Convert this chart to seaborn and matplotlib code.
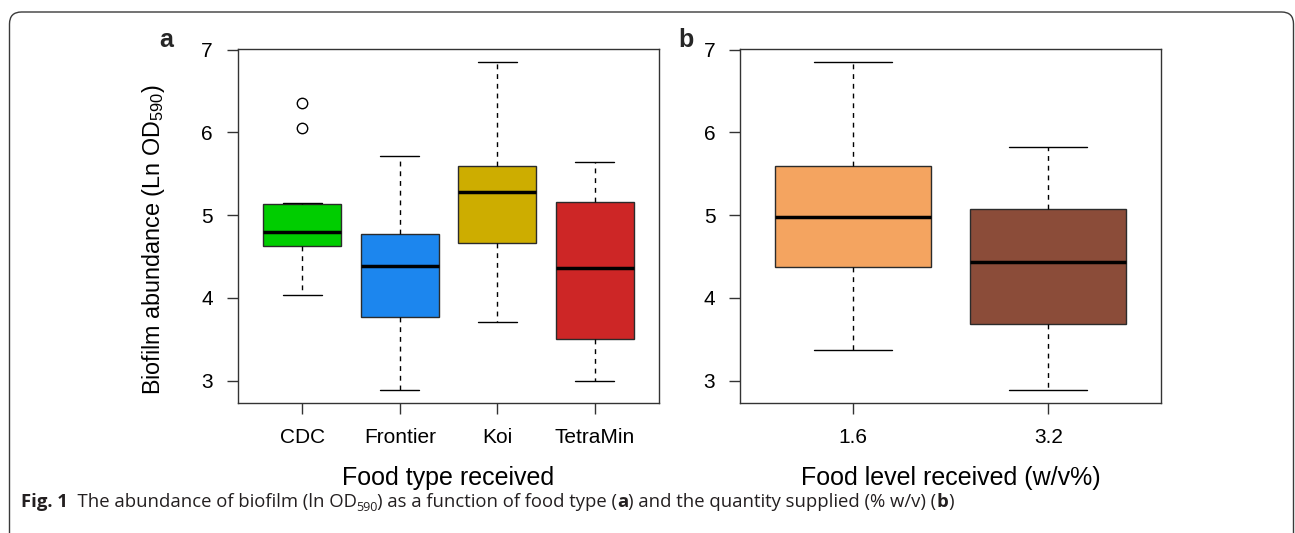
import matplotlib
matplotlib.use("Agg")
import matplotlib.pyplot as plt
import numpy as np
import pandas as pd
import seaborn as sns
from matplotlib.patches import FancyBboxPatch
from matplotlib.transforms import IdentityTransform

# ---------------- data ----------------
food_types = ["CDC", "Frontier", "Koi", "TetraMin"]
cdc = [4.03, 4.63, 4.63, 4.63, 4.80, 4.80, 4.80, 5.14, 5.14, 5.14, 5.15, 6.05, 6.36]
frontier = [2.89, 3.77, 4.39, 4.77, 5.72]
koi = [3.71, 4.66, 5.28, 5.60, 6.85]
tetramin = [3.00, 3.50, 4.36, 5.16, 5.64]

food_levels = ["1.6", "3.2"]
level_16 = [3.37, 4.37, 4.98, 5.59, 6.85]
level_32 = [2.89, 3.69, 4.43, 5.07, 5.82]

type_colors = ["#00CD00", "#1C86EE", "#CDAD00", "#CD2626"]
level_colors = ["#F4A460", "#8B4C39"]

df_a = pd.DataFrame({
    "food": sum([[n] * len(v) for n, v in zip(food_types, [cdc, frontier, koi, tetramin])], []),
    "abundance": cdc + frontier + koi + tetramin,
})
df_b = pd.DataFrame({
    "level": sum([[n] * len(v) for n, v in zip(food_levels, [level_16, level_32])], []),
    "abundance": level_16 + level_32,
})

# ---------------- style ----------------
sns.set_theme(style="ticks")
plt.rcParams["font.family"] = ["Liberation Sans", "DejaVu Sans"]
plt.rcParams["mathtext.fontset"] = "custom"
plt.rcParams["mathtext.rm"] = "Liberation Sans"
plt.rcParams["mathtext.it"] = "Liberation Sans:italic"
plt.rcParams["mathtext.bf"] = "Liberation Sans:bold"
plt.rcParams["mathtext.default"] = "regular"

W, H = 1295, 533
fig = plt.figure(figsize=(W / 100, H / 100), dpi=100)
fig.patch.set_facecolor("white")

ax_a = fig.add_axes([238 / W, (H - 402.7) / H, 421 / W, 353.7 / H])
ax_b = fig.add_axes([740.3 / W, (H - 402.7) / H, 421 / W, 353.7 / H])

edge = "#2b2b2b"
common = dict(
    width=0.8, saturation=1, linewidth=1.0, linecolor=edge,
    whiskerprops=dict(linestyle=(0, (3.5, 3.5)), color="black", linewidth=1.0),
    capprops=dict(color="black", linewidth=1.0),
    medianprops=dict(color="black", linewidth=2.5, solid_capstyle="butt"),
    flierprops=dict(marker="o", markerfacecolor="none", markeredgecolor="black",
                    markersize=7.5, markeredgewidth=1.0),
    legend=False,
)

sns.boxplot(data=df_a, x="food", y="abundance", hue="food", order=food_types,
            hue_order=food_types, palette=type_colors, ax=ax_a, **common)
sns.boxplot(data=df_b, x="level", y="abundance", hue="level", order=food_levels,
            hue_order=food_levels, palette=level_colors, ax=ax_b, **common)

ylim = (2.733, 7.009)
for ax, n in ((ax_a, 4), (ax_b, 2)):
    ext = 0.04 * n
    ax.set_xlim(-0.5 - ext, n - 0.5 + ext)
    ax.set_ylim(*ylim)
    ax.set_yticks([3, 4, 5, 6, 7])
    ax.set_yticklabels(["3", "4", "5", "6", "7"])
    for s in ax.spines.values():
        s.set_visible(True)
        s.set_color("#333333")
        s.set_linewidth(1.0)
    ax.tick_params(axis="both", direction="out", length=8, width=1.0,
                   color="#333333", labelsize=15, labelcolor="black", pad=10)
    ax.set_facecolor("white")
    ax.grid(False)

ax_a.set_xlabel("Food type received", fontsize=18, color="black")
ax_b.set_xlabel("Food level received (w/v%)", fontsize=18, color="black")
ax_a.xaxis.set_label_coords(0.5, -0.18)
ax_b.xaxis.set_label_coords(0.5, -0.18)
ax_a.set_ylabel("Biofilm abundance (Ln OD$_{590}$)", fontsize=16.8, color="black")
ax_a.yaxis.set_label_coords(-0.168, 0.46)
ax_b.set_ylabel("")

fig.text(159 / W, (H - 47) / H, "a", fontsize=18, fontweight="bold",
         ha="left", va="baseline")
fig.text(678 / W, (H - 47) / H, "b", fontsize=18, fontweight="bold",
         ha="left", va="baseline")

# rounded frame
frame = FancyBboxPatch((9.5, -40), 1284, H - 12 + 40,
                       boxstyle="round,pad=0,rounding_size=12",
                       transform=IdentityTransform(), facecolor="none",
                       edgecolor="#3a3a3a", linewidth=1.0, zorder=0)
fig.add_artist(frame)

# caption
cap_font = ["Open Sans", "DejaVu Sans"]
cap_size = 13.3
cap_color = "#231F20"
segments = [
    ("Fig. 1", "bold", False, 0.0),
    ("  The abundance of biofilm (ln OD", "normal", False, -1.0),
    ("590", "normal", True, 0.0),
    (") as a function of food type (", "normal", False, 0.0),
    ("a", "bold", False, 0.0),
    (") and the quantity supplied (% w/v) (", "normal", False, 0.0),
    ("b", "bold", False, 0.0),
    (")", "normal", False, 0.0),
]
renderer = fig.canvas.get_renderer()
x = 21.0
base = H - 507.0
for text, weight, sub, adj in segments:
    size = cap_size * 0.68 if sub else cap_size
    y = base - 4.0 if sub else base
    t = fig.text(x / W, y / H, text, fontsize=size, fontweight=weight,
                 family=cap_font, color=cap_color, ha="left", va="baseline")
    bb = t.get_window_extent(renderer=renderer)
    x += bb.width + adj

fig.savefig("out.png", dpi=100, facecolor="white")
